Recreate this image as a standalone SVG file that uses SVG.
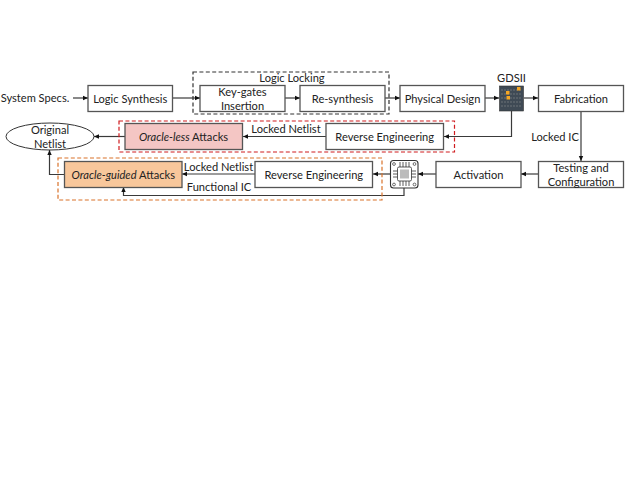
<svg xmlns="http://www.w3.org/2000/svg" width="627" height="487" viewBox="0 0 627 487">
<style>
text{font-family:Lato,"Liberation Sans",sans-serif;font-size:11.1px;fill:#222;text-anchor:middle}
.b{fill:#fff;stroke:#555;stroke-width:1.3}
.c{fill:none;stroke:#3a3a3a;stroke-width:1.2;marker-end:url(#a)}
.d{fill:none;stroke-width:1.2;stroke-dasharray:4 2.4}
.o{fill:#f5a623}
.p{fill:none;stroke:#333;stroke-width:.7}
</style>
<defs><marker id="a" markerUnits="userSpaceOnUse" markerWidth="6" markerHeight="6" refX="5" refY="3" orient="auto"><path d="M0 .8L5 3L0 5.2z" fill="#111"/></marker></defs>
<rect width="627" height="487" fill="#fff"/>
<g id="connectors">
<path class="c" d="M73 98H88"/><path class="c" d="M173 98H200"/><path class="c" d="M285 98H300"/><path class="c" d="M385 98H400"/><path class="c" d="M485 98H499"/><path class="c" d="M524 98H538"/>
<path class="c" d="M581 112V161"/>
<path class="c" d="M511.500 111V136.500H444"/>
<path class="c" d="M326 136.500H243"/><path class="c" d="M125 136.500H94"/>
<path class="c" d="M538 174H521"/><path class="c" d="M436 174H418"/><path class="c" d="M390 174H373"/><path class="c" d="M255 174H182"/>
<path class="c" d="M404 188V195.500H123.500V187"/>
<path class="c" d="M64 174.500H49.500V150"/>
</g>
<g id="logic-locking-group"><rect class="d" x="193" y="72" width="196" height="42" stroke="#333"/><text x="292" y="82">Logic Locking</text></g>
<g id="oracle-less-group"><rect class="d" x="119" y="121" width="335.500" height="31" stroke="#d01c1f"/></g>
<g id="oracle-guided-group"><rect class="d" x="58" y="158" width="324" height="42" stroke="#d9722a"/></g>
<g id="system-specs"><text x="35" y="102">System Specs.</text></g>
<g id="logic-synthesis"><rect class="b" x="88" y="85.500" width="84.500" height="26"/><text x="130.300" y="102.500">Logic Synthesis</text></g>
<g id="key-gates"><rect class="b" x="200" y="85.500" width="85" height="26"/><text x="242.500" y="96">Key-gates</text><text x="242.500" y="110">Insertion</text></g>
<g id="re-synthesis"><rect class="b" x="300" y="85.500" width="85" height="26"/><text x="342.500" y="102.500">Re-synthesis</text></g>
<g id="physical-design"><rect class="b" x="400" y="85.500" width="85" height="26"/><text x="442.500" y="102.500">Physical Design</text></g>
<g id="gdsii"><text x="511.500" y="82">GDSII</text>
<rect x="499.500" y="86" width="24" height="25" fill="#3f4a55" stroke="#333" stroke-width=".6"/>
<path d="M501 90H522M501 94H522M501 98H522M501 102H522M501 106H522" stroke="#6d7378" stroke-width="1" stroke-dasharray="2 1"/>
<rect class="o" x="506" y="91" width="3.500" height="3.500"/><rect class="o" x="506.500" y="96" width="3.500" height="3.500"/><rect class="o" x="517" y="87" width="3.500" height="3.500"/>
</g>
<g id="fabrication"><rect class="b" x="538.500" y="85.500" width="85" height="26"/><text x="581" y="102.500">Fabrication</text></g>
<g id="locked-ic"><text x="555" y="141">Locked IC</text></g>
<g id="original-netlist"><ellipse cx="50" cy="136.500" rx="44" ry="13.500" fill="#fff" stroke="#333" stroke-width="1"/><text x="50" y="133.500">Original</text><text x="50" y="147.500">Netlist</text></g>
<g id="oracle-less"><rect class="b" x="125" y="123.500" width="117.500" height="26" style="fill:#f4c6c4"/><text x="183.500" y="140.500"><tspan font-style="italic">Oracle-less</tspan> Attacks</text></g>
<g id="locked-netlist-1"><text x="286" y="133">Locked Netlist</text></g>
<g id="re-1"><rect class="b" x="326" y="123.500" width="117.500" height="26"/><text x="384.700" y="140.500">Reverse Engineering</text></g>
<g id="oracle-guided"><rect class="b" x="64.500" y="161.500" width="117.500" height="26" style="fill:#f8c79b"/><text x="123.300" y="178.500"><tspan font-style="italic">Oracle-guided</tspan> Attacks</text></g>
<g id="locked-netlist-2"><text x="218.500" y="170.500">Locked Netlist</text></g>
<g id="functional-ic"><text x="219" y="191">Functional IC</text></g>
<g id="re-2"><rect class="b" x="255" y="161.500" width="117.500" height="26"/><text x="313.800" y="178.500">Reverse Engineering</text></g>
<g id="chip">
<rect x="390.500" y="160.500" width="27.500" height="27.500" rx="3" fill="#fff" stroke="#333" stroke-width="1.100"/>
<circle class="p" cx="394" cy="164" r="1.400"/><circle class="p" cx="414.500" cy="164" r="1.400"/><circle class="p" cx="394" cy="184.500" r="1.400"/><circle class="p" cx="414.500" cy="184.500" r="1.400"/>
<path d="M400 162V167M403 162V167M406 162V167M409 162V167M400 181V186M403 181V186M406 181V186M409 181V186M393 171H398M393 174H398M393 177H398M411 171H416M411 174H416M411 177H416" stroke="#333" stroke-width=".8"/>
<rect x="397.500" y="167" width="14" height="14" rx="1.500" fill="#fff" stroke="#333" stroke-width=".8"/>
<rect x="400" y="169.500" width="9" height="9" fill="#bbb"/>
</g>
<g id="activation"><rect class="b" x="436" y="161.500" width="85" height="26"/><text x="478.500" y="178.500">Activation</text></g>
<g id="testing"><rect class="b" x="538.500" y="161.500" width="85" height="26"/><text x="581" y="171.500">Testing and</text><text x="581" y="185.500">Configuration</text></g>
</svg>
